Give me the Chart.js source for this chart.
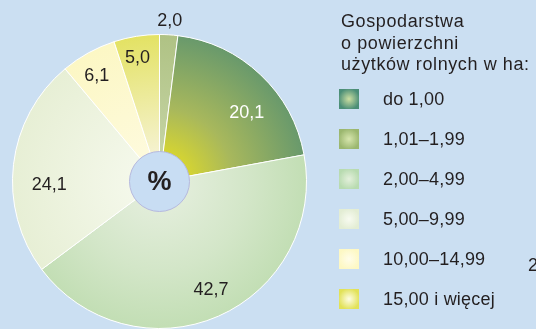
<!DOCTYPE html>
<html lang="pl">
<head>
<meta charset="utf-8">
<title>Gospodarstwa według powierzchni użytków rolnych</title>
<script src="https://cdn.jsdelivr.net/npm/chart.js@4/dist/chart.umd.min.js"></script>
<style>
  html, body { margin: 0; padding: 0; }
  body {
    width: 536px; height: 329px; overflow: hidden; position: relative;
    background: #cbdff2;
    font-family: "Liberation Sans", Arial, Helvetica, sans-serif;
    color: #231f20;
  }
  #chart { position: absolute; left: 0; top: 0; }
  #legend { position: absolute; left: 341px; top: 11px; font-size: 18px; }
  #legend .title { line-height: 21.5px; white-space: nowrap; letter-spacing: 0.6px; }
  .row { position: absolute; left: -2px; height: 20px; white-space: nowrap; }
  .sw { position: absolute; left: 0; top: 0; width: 20px; height: 20px; }
  .lbl { position: absolute; left: 44px; top: -1px; line-height: 22px; letter-spacing: 0.2px; }
  #edge { position: absolute; left: 528px; top: 255px; font-size: 18px; }
</style>
</head>
<body>
<canvas id="chart" width="536" height="329"></canvas>
<div id="legend">
  <div class="title" id="legendTitle"></div>
</div>
<div id="edge">2</div>
<script>
// Udział gospodarstw wg grup obszarowych (%), zgodnie z ruchem wskazówek zegara od góry
const categories = ['do 1,00', '1,01–1,99', '2,00–4,99', '5,00–9,99', '10,00–14,99', '15,00 i więcej'];
const shares = [2.0, 20.1, 42.7, 24.1, 6.1, 5.0];
const valueLabels = ['2,0', '20,1', '42,7', '24,1', '6,1', '5,0'];
const legendTitleLines = ['Gospodarstwa', 'o powierzchni', 'użytków rolnych w ha:'];
const centerText = '%';

// Radial shading of each slice (stops from the centre outwards)
const sliceStops = [
  [[0, '#cad8ab'], [1, '#afc284']],
  [[0.08, '#e6df22'], [0.5, '#a8b85c'], [1, '#68996c']],
  [[0, '#e8f0e1'], [0.6, '#d3e6c8'], [1, '#c2deb4']],
  [[0, '#f7faef'], [1, '#e7efd5']],
  [[0, '#fefbe2'], [1, '#fcf7c4']],
  [[0.2, '#f5f2cf'], [1, '#e3e263']]
];
const sliceFlat = ['#b8c892', '#90a860', '#cde4c0', '#eef4e0', '#fcf8cc', '#ebe88a'];
const swatchGradients = [
  ['#cddfa2', '#4b8e77'],
  ['#d7e6ae', '#9bb76f'],
  ['#e4f0dc', '#b8dbb0'],
  ['#f8fbf1', '#e3edd4'],
  ['#fffdea', '#fdf8c4'],
  ['#fefde4', '#e2e258']
];
const labelColors = ['#231f20', '#ffffff', '#231f20', '#231f20', '#231f20', '#231f20'];
// label placement relative to each slice: share of radius, angular nudge (deg)
const labelPlacement = [[1.1, 0], [0.76, 8], [0.81, -2], [0.75, -8], [0.84, -1.6], [0.86, -1]];

// legend
const titleEl = document.getElementById('legendTitle');
legendTitleLines.forEach(t => { const d = document.createElement('div'); d.textContent = t; titleEl.appendChild(d); });
const legendEl = document.getElementById('legend');
categories.forEach((c, i) => {
  const row = document.createElement('div');
  row.className = 'row';
  row.style.top = (78 + 40 * i) + 'px';
  const sw = document.createElement('div');
  sw.className = 'sw';
  sw.style.background = 'radial-gradient(circle at 50% 50%, ' + swatchGradients[i][0] + ' 0%, ' + swatchGradients[i][1] + ' 75%)';
  const lb = document.createElement('div');
  lb.className = 'lbl';
  lb.textContent = c;
  row.appendChild(sw); row.appendChild(lb);
  legendEl.appendChild(row);
});

function sliceFill(ctx) {
  const chart = ctx.chart, a = chart.chartArea, i = ctx.dataIndex;
  if (!a || i === undefined) return sliceFlat[i] || '#ccc';
  const cx = (a.left + a.right) / 2, cy = (a.top + a.bottom) / 2;
  const r = Math.min(a.right - a.left, a.bottom - a.top) / 2;
  const g = chart.ctx.createRadialGradient(cx, cy, 0, cx, cy, r);
  sliceStops[i].forEach(s => g.addColorStop(s[0], s[1]));
  return g;
}

const overlay = {
  id: 'overlay',
  afterDatasetsDraw(chart) {
    const ctx = chart.ctx;
    const arcs = chart.getDatasetMeta(0).data;
    if (!arcs.length) return;
    const cx = arcs[0].x, cy = arcs[0].y;
    // centre disc
    ctx.save();
    ctx.beginPath();
    ctx.arc(cx, cy, 30, 0, Math.PI * 2);
    ctx.fillStyle = '#c8ddf3';
    ctx.fill();
    ctx.lineWidth = 1;
    ctx.strokeStyle = '#b6b9de';
    ctx.stroke();
    ctx.fillStyle = '#231f20';
    ctx.font = 'bold 27px "Liberation Sans", Arial, sans-serif';
    ctx.textAlign = 'center';
    ctx.textBaseline = 'middle';
    ctx.fillText(centerText, cx, cy + 1);
    // value labels
    ctx.font = '18px "Liberation Sans", Arial, sans-serif';
    arcs.forEach((arc, i) => {
      const p = labelPlacement[i];
      const mid = (arc.startAngle + arc.endAngle) / 2 + p[1] * Math.PI / 180;
      const r = arc.outerRadius * p[0];
      ctx.fillStyle = labelColors[i];
      ctx.fillText(valueLabels[i], arc.x + Math.cos(mid) * r, arc.y + Math.sin(mid) * r + 1);
    });
    ctx.restore();
  }
};

new Chart(document.getElementById('chart'), {
  type: 'pie',
  data: {
    labels: categories,
    datasets: [{
      data: shares,
      backgroundColor: sliceFill,
      borderColor: '#ffffff',
      borderWidth: 1
    }]
  },
  options: {
    responsive: false,
    animation: false,
    layout: { padding: { left: 12, top: 34, right: 229, bottom: 0 } },
    plugins: { legend: { display: false }, tooltip: { enabled: false } }
  },
  plugins: [overlay]
});
</script>
</body>
</html>
